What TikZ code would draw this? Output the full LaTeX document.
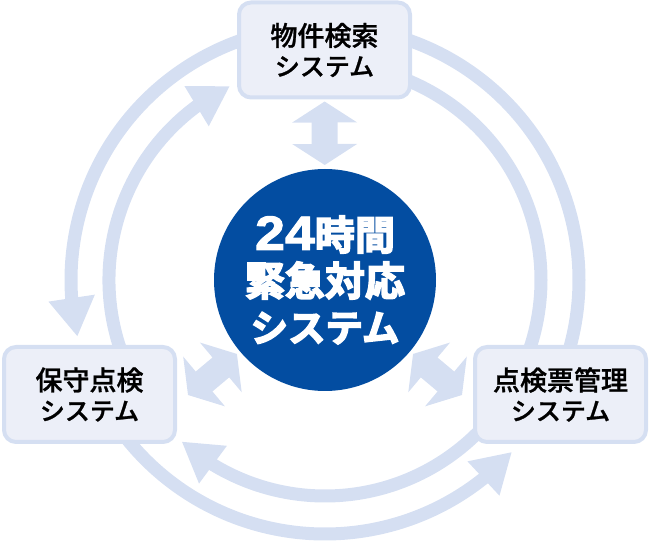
\documentclass[tikz,border=0pt]{standalone}
\usepackage{fontspec}
\setmainfont{Noto Sans CJK JP}
\newfontfamily\digitfont[FakeBold=2,FakeStretch=1.12]{Liberation Sans Bold}
\newfontfamily\boxfont[UprightFont=* Medium,FakeBold=1]{Noto Sans CJK JP}
\newfontfamily\hubfont[UprightFont=* Bold,FakeBold=4]{Noto Sans CJK JP}
\usetikzlibrary{arrows.meta,bending,calc}
\definecolor{ringblue}{HTML}{D5DFF2}
\definecolor{boxblue}{HTML}{ECEFF8}
\definecolor{hubblue}{HTML}{034DA1}
\newcommand{\kana}{{\fontsize{25}{30}\selectfont システム}}
\newcommand{\hubkana}{{\fontsize{37.5}{46}\selectfont システム}}
\tikzset{
x=1pt, y=1pt,
ring/.style={draw=ringblue, line width=13pt}, % the long curved bands
ringtip/.style={ring, -{Triangle[length=39pt,width=44pt]}}, % band with a head
link/.style={draw=ringblue, line width=26pt, {Triangle[length=21pt,width=64pt]}-{Triangle[length=21pt,width=64pt]}, shorten >=4pt}, % short double arrows
system/.style={draw=ringblue, fill=boxblue, line width=4pt, rounded corners=12pt, minimum width=171pt, minimum height=95pt, outer sep=0pt, align=center, font=\boxfont\fontsize{27}{30}\selectfont},
hubnode/.style={circle, fill=hubblue, text=white, minimum size=222pt, inner sep=0pt, outer sep=0pt, align=center, font=\hubfont\fontsize{40}{46}\selectfont},
}
\begin{document}
\begin{tikzpicture}
\useasboundingbox (0,0) rectangle (649,541);
\coordinate (centre) at (325,261);
% ends of the curved bands
\coordinate (a1) at ($(centre)+(100:254)$);
\coordinate (a2) at ($(centre)+(205:216)$);
\coordinate (a3) at ($(centre)+(80:254)$);
\coordinate (a4) at ($(centre)+(80:216)$);
\coordinate (a5) at ($(centre)+(215:254)$);
\coordinate (a6) at ($(centre)+(330:216)$);
\coordinate (hoshuport) at (188,146);
\coordinate (hyoport) at (462,146);
\draw[ringtip] (a1) arc[start angle=100, end angle=192.9, radius=254pt];
\draw[ringtip] (a2) arc[start angle=205, end angle=116.1, radius=216pt];
\draw[ring] (a3) arc[start angle=80, end angle=-20, radius=254pt];
\draw[ring] (a4) arc[start angle=80, end angle=-20, radius=216pt];
\draw[ringtip] (a5) arc[start angle=215, end angle=317.4, radius=254pt];
\draw[ringtip] (a6) arc[start angle=330, end angle=228.4, radius=216pt];
\node[system] (kensaku) at (324.5,491) {物件検索\\\kana};
\node[system] (hoshu) at (89.5,146.5) {保守点検\\\kana};
\node[system] (hyo) at (560.5,146.5) {点検票管理\\\kana};
\node[hubnode] (hub) at (centre) {{\digitfont\fontsize{48}{46}\selectfont 24}時間\\緊急対応\\\hubkana};
\draw[link, shorten <=4pt] (kensaku) -- (hub);
\draw[link] (hoshuport) -- (hub);
\draw[link] (hyoport) -- (hub);
\end{tikzpicture}
\end{document}
